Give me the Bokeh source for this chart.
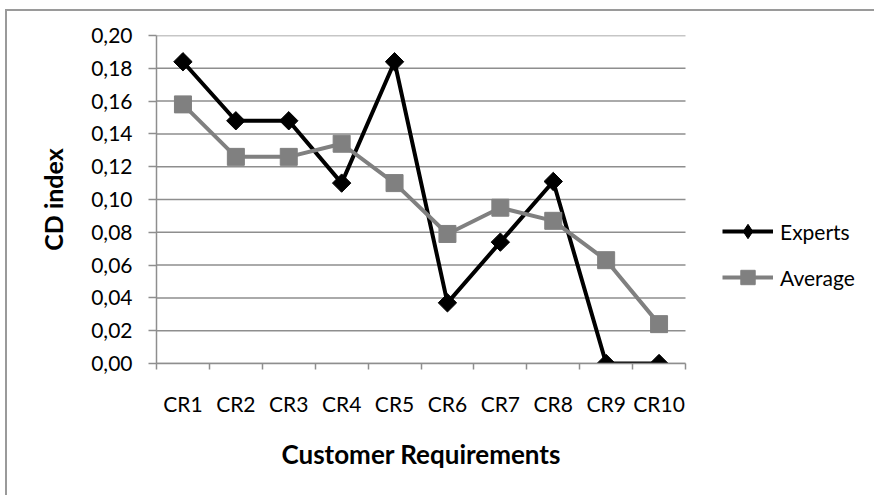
import math

from bokeh.plotting import figure
from bokeh.layouts import column
from bokeh.models import FixedTicker, Legend, LegendItem, Title
from bokeh.embed import file_html
from bokeh.resources import INLINE

# Data
categories = ["CR1", "CR2", "CR3", "CR4", "CR5", "CR6", "CR7", "CR8", "CR9", "CR10"]
experts = [0.184, 0.148, 0.148, 0.110, 0.184, 0.037, 0.074, 0.111, 0.000, 0.000]
average = [0.158, 0.126, 0.126, 0.134, 0.110, 0.079, 0.095, 0.087, 0.063, 0.024]
y_ticks = [0.00, 0.02, 0.04, 0.06, 0.08, 0.10, 0.12, 0.14, 0.16, 0.18, 0.20]
y_tick_labels = ["0,00", "0,02", "0,04", "0,06", "0,08", "0,10",
                 "0,12", "0,14", "0,16", "0,18", "0,20"]

FONT = "Lato"
GRID = "#8e8e8e"
AXIS = "#8e8e8e"
AVG_COLOR = "#808080"

n = len(categories)
# category centres sit at 0.5, 1.5, ... so ticks fall on the boundaries
x_pos = [i + 0.5 for i in range(n)]

# the frame runs on to the right edge so the legend has room beside the
# category area (529 px of the frame)
WIDTH, LEFT = 867, 149
PLOT_PX, FRAME_PX = 529, WIDTH - LEFT
x_end = n * FRAME_PX / PLOT_PX

p = figure(width=WIDTH, height=484, x_range=(0, x_end), y_range=(0, 0.2),
           output_backend="svg", toolbar_location=None,
           min_border_left=LEFT, min_border_right=0,
           min_border_top=24, min_border_bottom=132)
p.outline_line_color = None
p.background_fill_color = "white"
p.border_fill_color = "white"

# horizontal grid lines only across the category area
p.xgrid.grid_line_color = None
p.ygrid.grid_line_color = None
p.segment(x0=[0] * len(y_ticks), x1=[n] * len(y_ticks), y0=y_ticks, y1=y_ticks,
          line_color=GRID, line_width=1.5)

# x axis: labels at category centres, small tick marks between categories
p.xaxis.bounds = (0, n)
p.xaxis.ticker = FixedTicker(ticks=x_pos, minor_ticks=list(range(n + 1)))
p.xaxis.major_label_overrides = {x: c for x, c in zip(x_pos, categories)}
p.xaxis.major_tick_out = 0
p.xaxis.major_tick_in = 0
p.xaxis.minor_tick_out = 6
p.xaxis.minor_tick_in = 0
p.xaxis.minor_tick_line_color = AXIS
p.xaxis.minor_tick_line_width = 1.5
p.xaxis.axis_line_color = AXIS
p.xaxis.axis_line_width = 1.5
p.xaxis.major_label_standoff = 21
p.xaxis.major_label_text_font = FONT
p.xaxis.major_label_text_font_size = "21px"
p.xaxis.major_label_text_color = "black"

# x title centred under the category area
x_title = Title(text="Customer Requirements", align="left", offset=125,
                text_font=FONT, text_font_style="bold", text_font_size="26px",
                text_color="black", standoff=34)
p.add_layout(x_title, "below")

# y axis with comma decimals
p.yaxis.ticker = FixedTicker(ticks=y_ticks, minor_ticks=[])
p.yaxis.major_label_overrides = {t: s for t, s in zip(y_ticks, y_tick_labels)}
p.yaxis.major_tick_out = 8
p.yaxis.major_tick_in = 0
p.yaxis.major_tick_line_color = AXIS
p.yaxis.major_tick_line_width = 1.5
p.yaxis.axis_line_color = AXIS
p.yaxis.axis_line_width = 1.5
p.yaxis.major_label_standoff = 16
p.yaxis.major_label_text_font = FONT
p.yaxis.major_label_text_font_size = "21px"
p.yaxis.major_label_text_color = "black"
p.yaxis.axis_label = "CD index"
p.yaxis.axis_label_text_font = FONT
p.yaxis.axis_label_text_font_style = "bold"
p.yaxis.axis_label_text_font_size = "25px"
p.yaxis.axis_label_text_color = "black"
p.yaxis.axis_label_standoff = 20

# series
l1 = p.line(x_pos, experts, line_color="black", line_width=4)
# narrow diamonds (used as the legend key) under wider turned squares
k1 = p.scatter(x_pos, experts, marker="diamond", size=16, fill_color="black",
               line_color="black")
m1 = p.scatter(x_pos, experts, marker="square", angle=math.pi / 4, size=13,
               fill_color="black", line_color="black")
l2 = p.line(x_pos, average, line_color=AVG_COLOR, line_width=4)
m2 = p.scatter(x_pos, average, marker="square", size=17, fill_color=AVG_COLOR,
               line_color=AVG_COLOR)

legend = Legend(items=[LegendItem(label="Experts", renderers=[l1, k1]),
                       LegendItem(label="Average", renderers=[l2, m2])],
                location=(566, 68))
legend.padding = 0
legend.margin = 0
legend.spacing = 10
legend.glyph_width = 51
legend.glyph_height = 36
legend.label_height = 36
legend.label_standoff = 7
legend.border_line_color = None
legend.background_fill_alpha = 0
legend.label_text_font = FONT
legend.label_text_font_size = "21px"
legend.label_text_color = "black"
p.add_layout(legend, "center")

# chart area frame: thin grey rule along the top and left edges
root = column(p, margin=(9, 0, 0, 5),
              styles={"border-left": "2px solid #9a9a9a",
                      "border-top": "2px solid #9a9a9a"})

open("out.html", "w").write(file_html(root, INLINE))
